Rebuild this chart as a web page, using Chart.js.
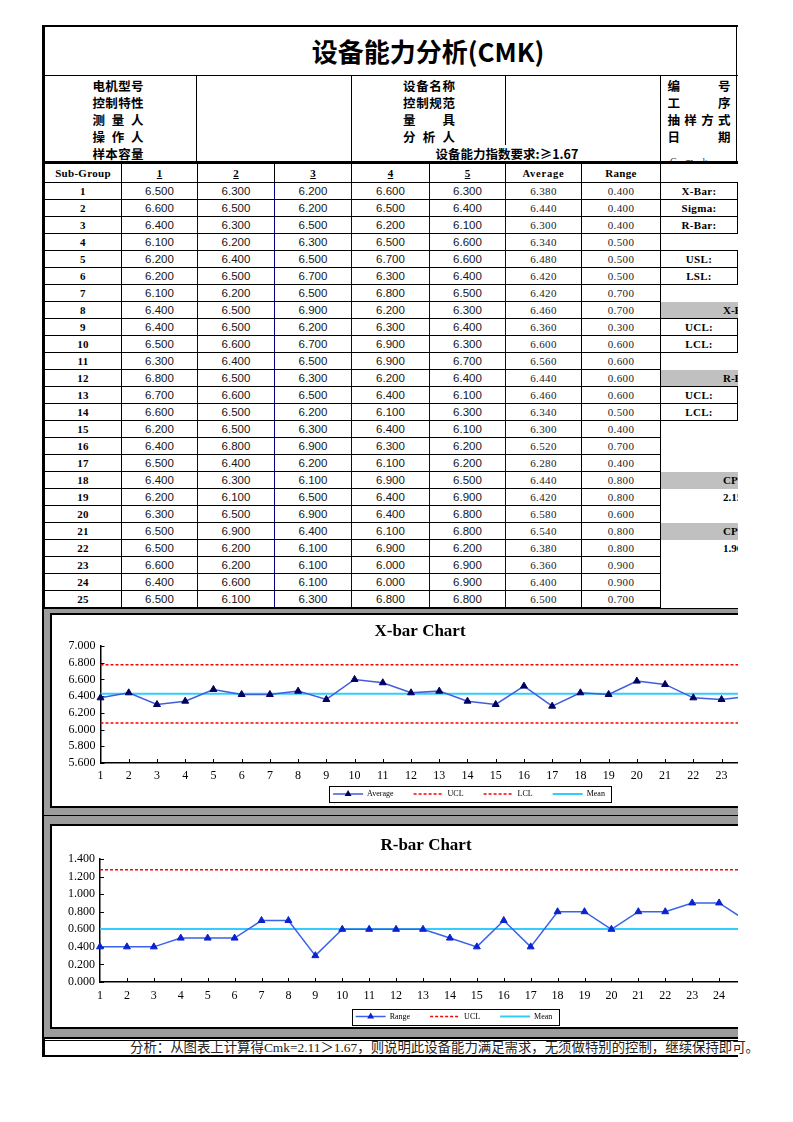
<!DOCTYPE html>
<html>
<head>
<meta charset="utf-8">
<script src="https://cdn.jsdelivr.net/npm/chart.js@4.4.1/dist/chart.umd.min.js"></script>
<style>
body{margin:0;background:#fff;}
#sheet{position:absolute;left:0;top:0;width:738px;height:1122px;overflow:hidden;background:#fff;}
.ln{position:absolute;background:#000;}
.cjk{position:absolute;font-family:"Noto Sans CJK SC",sans-serif;font-weight:700;font-size:12.5px;color:#000;line-height:17px;height:17px;white-space:nowrap;}
.just{display:flex;justify-content:space-between;}
#data{position:absolute;left:44px;top:163px;border-collapse:collapse;table-layout:fixed;width:773px;}
#data td{border:1px solid #000;padding:0;text-align:center;white-space:nowrap;overflow:hidden;line-height:14px;}
#data tr{height:17px;}
#data tr.hd{height:19px;}
#data td.sg{font:bold 11px "Liberation Serif",serif;letter-spacing:.3px;}
#data td.hn{font:bold 11px "Liberation Serif",serif;}
#data td.v{font:11.5px "Liberation Sans",sans-serif;color:#151515;border-left-color:#000080;border-right-color:#000080;}
#data td.av{font:11px "Liberation Serif",serif;color:#222;letter-spacing:.4px;}
#data td.rl{font:bold 11px "Liberation Serif",serif;letter-spacing:.3px;}
#data td.nb{border:none;}
#data td.gh{border:none;background:#c0c0c0;text-align:left;padding-left:62px;font:bold 11px "Liberation Serif",serif;}
#data td.rv{border:none;text-align:left;padding-left:62px;font:bold 11px "Liberation Serif",serif;}
.frame{position:absolute;left:44px;width:700px;background:#9c9c9c;}
.box{position:absolute;left:50px;width:900px;box-sizing:border-box;border:2px solid #000;background:#fff;}
canvas{position:absolute;}
#foot{position:absolute;left:130px;top:1041px;font-family:"Liberation Serif","Noto Sans CJK SC",serif;font-size:13.4px;line-height:14px;color:#222;white-space:nowrap;}
</style>
</head>
<body>
<div id="sheet">
  <!-- 外框 -->
  <div class="ln" style="left:42px;top:25px;width:3px;height:1032px"></div>
  <div class="ln" style="left:42px;top:25px;width:700px;height:2px"></div>
  <div class="ln" style="left:736px;top:25px;width:1px;height:138px"></div>

  <div style="position:absolute;left:44px;top:27px;width:768px;height:48px;line-height:48px;text-align:center;font-family:'Noto Sans CJK SC',sans-serif;font-weight:700;font-size:26px;">设备能力分析(CMK)</div>
  <div class="ln" style="left:44px;top:75px;width:700px;height:1px"></div>

  <div class="ln" style="left:196px;top:76px;width:1px;height:86px"></div>
  <div class="ln" style="left:351px;top:76px;width:1px;height:86px"></div>
  <div class="ln" style="left:505px;top:76px;width:1px;height:69px"></div>
  <div class="ln" style="left:660px;top:76px;width:1px;height:86px"></div>
  <div id="info"></div>
  <div style="position:absolute;left:664px;top:156px;width:72px;height:6px;overflow:hidden;">
    <div style="font:10px 'Liberation Serif',serif;color:#444;letter-spacing:9px;line-height:12px;padding-left:6px;">Cmk</div>
  </div>
  <div class="ln" style="left:44px;top:161px;width:700px;height:2px"></div>

  <table id="data"></table>

  <div class="frame" style="top:608px;height:207px"></div>
  <div class="ln" style="left:44px;top:608px;width:700px;height:1px"></div>
  <div class="box" style="top:613px;height:195px"></div>
  <canvas id="xChart" width="780" height="191" style="left:52px;top:615px"></canvas>
  <div class="ln" style="left:44px;top:815px;width:700px;height:1px"></div>

  <div class="frame" style="top:816px;height:221px"></div>
  <div class="box" style="top:824px;height:205px"></div>
  <canvas id="rChart" width="748" height="201" style="left:52px;top:826px"></canvas>

  <div class="ln" style="left:44px;top:1037px;width:700px;height:2px"></div>
  <div class="ln" style="left:44px;top:1040px;width:700px;height:1px"></div>
  <div class="ln" style="left:42px;top:1055px;width:700px;height:2px"></div>
</div>
<div id="foot">分析：从图表上计算得Cmk=2.11＞1.67，则说明此设备能力满足需求，无须做特别的控制，继续保持即可。</div>

<script>
// 子组编号
const subGroups = ['1','2','3','4','5','6','7','8','9','10','11','12','13','14','15','16','17','18','19','20','21','22','23','24','25'];

// 测量值 (每列一个样本)
const meas1 = [6.5,6.6,6.4,6.1,6.2,6.2,6.1,6.4,6.4,6.5,6.3,6.8,6.7,6.6,6.2,6.4,6.5,6.4,6.2,6.3,6.5,6.5,6.6,6.4,6.5];
const meas2 = [6.3,6.5,6.3,6.2,6.4,6.5,6.2,6.5,6.5,6.6,6.4,6.5,6.6,6.5,6.5,6.8,6.4,6.3,6.1,6.5,6.9,6.2,6.2,6.6,6.1];
const meas3 = [6.2,6.2,6.5,6.3,6.5,6.7,6.5,6.9,6.2,6.7,6.5,6.3,6.5,6.2,6.3,6.9,6.2,6.1,6.5,6.9,6.4,6.1,6.1,6.1,6.3];
const meas4 = [6.6,6.5,6.2,6.5,6.7,6.3,6.8,6.2,6.3,6.9,6.9,6.2,6.4,6.1,6.4,6.3,6.1,6.9,6.4,6.4,6.1,6.9,6.0,6.0,6.8];
const meas5 = [6.3,6.4,6.1,6.6,6.6,6.4,6.5,6.3,6.4,6.3,6.7,6.4,6.1,6.3,6.1,6.2,6.2,6.5,6.9,6.8,6.8,6.2,6.9,6.9,6.8];

const averages = [6.38,6.44,6.30,6.34,6.48,6.42,6.42,6.46,6.36,6.60,6.56,6.44,6.46,6.34,6.30,6.52,6.28,6.44,6.42,6.58,6.54,6.38,6.36,6.40,6.50];
const ranges = [0.4,0.4,0.4,0.5,0.5,0.5,0.7,0.7,0.3,0.6,0.6,0.6,0.6,0.5,0.4,0.7,0.4,0.8,0.8,0.6,0.8,0.8,0.9,0.9,0.7];

// 控制线
const xUCL = 6.777, xLCL = 6.080, xMean = 6.429;
const rUCL = 1.277, rMean = 0.604;

const xTicks = [5.6, 7.0, 0.2];   // min, max, step
const rTicks = [0, 1.4, 0.2];

// ---- 表头信息 ----
const info = document.getElementById('info');
function label(txt, cx, cy, w) {
  const d = document.createElement('div');
  d.className = 'cjk' + (w ? ' just' : '');
  d.style.top = (cy - 8.5) + 'px';
  if (w) {
    d.style.left = (cx - w / 2) + 'px';
    d.style.width = w + 'px';
    d.innerHTML = [...txt].map(c => `<span>${c}</span>`).join('');
  } else {
    d.style.left = (cx - 160) + 'px';
    d.style.width = '320px';
    d.style.textAlign = 'center';
    d.textContent = txt;
  }
  info.appendChild(d);
}
const leftLabels = ['电机型号', '控制特性', '测量人', '操作人', '样本容量'];
const midLabels = ['设备名称', '控制规范', '量具', '分析人'];
const rightInfo = ['编号', '工序', '抽样方式', '日期'];
leftLabels.forEach((t, i) => label(t, 118, 85 + i * 17, 51));
midLabels.forEach((t, i) => label(t, 429, 85 + i * 17, 52));
rightInfo.forEach((t, i) => label(t, 699, 85 + i * 17, 63));
label('设备能力指数要求:≥1.67', 507, 153);

// ---- 数据表 ----
const rightLabels = {0: 'X-Bar:', 1: 'Sigma:', 2: 'R-Bar:', 4: 'USL:', 5: 'LSL:', 8: 'UCL:', 9: 'LCL:', 12: 'UCL:', 13: 'LCL:'};
const rightHeads = {7: 'X-Bar Chart', 11: 'R-Bar Chart', 17: 'CP', 20: 'CPK'};
const rightVals = {18: '2.15', 21: '1.96'};

function rightCells(i) {
  if (rightLabels[i]) return `<td class="rl">${rightLabels[i]}</td><td></td>`;
  if (rightHeads[i]) return `<td class="gh" colspan="2">${rightHeads[i]}</td>`;
  if (rightVals[i]) return `<td class="rv" colspan="2">${rightVals[i]}</td>`;
  return '<td class="nb"></td><td class="nb"></td>';
}

const colW = [77, 76, 77, 77, 78, 76, 76, 79, 77, 80];
let html = '<colgroup>' + colW.map(w => `<col style="width:${w}px">`).join('') + '</colgroup>';
html += '<tr class="hd"><td class="sg">Sub-Group</td>' +
  [1, 2, 3, 4, 5].map(n => `<td class="hn"><u>${n}</u></td>`).join('') +
  '<td class="sg" style="font-size:10.5px;letter-spacing:.8px">Average</td><td class="sg">Range</td>' +
  '<td class="nb" colspan="2" style="border-top:1px solid #000"></td></tr>';
const cols = [meas1, meas2, meas3, meas4, meas5];
subGroups.forEach((g, i) => {
  html += `<tr><td class="sg">${g}</td>` +
    cols.map(m => `<td class="v">${m[i].toFixed(3)}</td>`).join('') +
    `<td class="av">${averages[i].toFixed(3)}</td><td class="av">${ranges[i].toFixed(3)}</td>` +
    rightCells(i) + '</tr>';
});
document.getElementById('data').innerHTML = html;

// ---- 图表 ----
Chart.defaults.font.family = "'Liberation Serif', 'Times New Roman', serif";
Chart.defaults.color = '#000';

const LEGEND_FONT = 8;

// 标题/图例位置、内侧刻度、图例外框
const sheetPlugin = {
  id: 'sheet',
  afterLayout(chart, args, o) {
    const t = chart.titleBlock;
    if (t) {
      const dx = o.titleX - (t.left + t.right) / 2;
      t.left += dx; t.right += dx;
    }
    const lg = chart.legend;
    if (lg) {
      const dx = o.legendX - (lg.left + lg.right) / 2;
      lg.left += dx; lg.right += dx;
      const pad = lg.options.labels.padding;
      lg.top = o.legendY - LEGEND_FONT / 2 - pad;
      lg.bottom = o.legendY + LEGEND_FONT;
      lg.height = lg.bottom - lg.top;
    }
  },
  beforeDatasetsDraw(chart) {
    const {ctx, chartArea: a, scales: {x, y}} = chart;
    ctx.save();
    ctx.strokeStyle = '#000';
    ctx.lineWidth = 1;
    ctx.beginPath();
    x.ticks.forEach((t, i) => {
      if (!i) return;
      const px = Math.round(x.getPixelForTick(i)) + 0.5;
      ctx.moveTo(px, a.bottom); ctx.lineTo(px, a.bottom - 4);
    });
    y.ticks.forEach((t, i) => {
      const py = Math.round(y.getPixelForTick(i)) + 0.5;
      ctx.moveTo(a.left, py); ctx.lineTo(a.left + 4, py);
    });
    ctx.stroke();
    ctx.restore();
  },
  afterDraw(chart) {
    const lg = chart.legend, boxes = lg.legendHitBoxes, ctx = chart.ctx;
    if (!boxes || !boxes.length) return;
    const first = boxes[0], last = boxes[boxes.length - 1];
    const bw = lg.options.labels.pointStyleWidth;
    const cy = first.top + LEGEND_FONT / 2;
    ctx.save();
    ctx.strokeStyle = '#000';
    ctx.lineWidth = 1;
    ctx.setLineDash([]);
    ctx.strokeRect(Math.round(first.left - 4) + 0.5, Math.round(cy - 8) + 0.5,
      Math.round(last.left + last.width - first.left + 10), 16);
    // 图例上的三角标记
    const ds = chart.data.datasets[0];
    const r = ds.pointRadius, cx = first.left + bw / 2;
    ctx.fillStyle = ds.pointBackgroundColor;
    ctx.beginPath();
    ctx.moveTo(cx, cy - r);
    ctx.lineTo(cx + r * 0.866, cy + r / 2);
    ctx.lineTo(cx - r * 0.866, cy + r / 2);
    ctx.closePath();
    ctx.fill();
    ctx.restore();
  }
};

function legendLabels(chart) {
  return chart.data.datasets.map((ds, i) => ({
    text: ds.label,
    datasetIndex: i,
    hidden: false,
    fillStyle: ds.borderColor,
    strokeStyle: ds.borderColor,
    lineWidth: ds.borderWidth,
    lineDash: ds.borderDash || [],
    lineCap: 'butt',
    pointStyle: 'line',
    rotation: 0,
    fontColor: '#000'
  }));
}

function axes(ticks, xPad) {
  return {
    x: {
      type: 'category', offset: false,
      grid: {display: false, drawTicks: false},
      border: {color: '#000', width: 1.5},
      ticks: {padding: xPad, maxRotation: 0, autoSkip: false, font: {size: 12}}
    },
    y: {
      min: ticks[0], max: ticks[1],
      grid: {display: false, drawTicks: false},
      border: {color: '#000', width: 1.5},
      ticks: {stepSize: ticks[2], padding: 5, autoSkip: false, font: {size: 12}, callback: v => Number(v).toFixed(3)},
      afterFit: s => { s.width = 40; }
    }
  };
}

function lineSet(label, data, color, markerColor) {
  return {label, data, borderColor: color, borderWidth: 1.5, tension: 0,
    pointStyle: 'triangle', pointRadius: 4, pointHoverRadius: 4,
    pointBackgroundColor: markerColor, pointBorderColor: markerColor, pointBorderWidth: 1, clip: false};
}
function flatSet(label, value, color, dash, width) {
  return {label, data: subGroups.map(() => value), borderColor: color, borderWidth: width,
    borderDash: dash, pointRadius: 0, tension: 0};
}

new Chart(document.getElementById('xChart'), {
  type: 'line',
  data: {
    labels: subGroups,
    datasets: [
      lineSet('Average', averages, '#3f5ddc', '#00005e'),
      flatSet('UCL', xUCL, '#ff0000', [3, 2], 1.5),
      flatSet('LCL', xLCL, '#ff0000', [3, 2], 1.5),
      flatSet('Mean', xMean, '#33ccff', undefined, 2)
    ]
  },
  options: {
    responsive: false, animation: false, devicePixelRatio: 1,
    layout: {padding: {left: 8.5, right: 54, top: 0, bottom: 0.6}},
    scales: axes(xTicks, 6),
    plugins: {
      title: {display: true, text: 'X-bar Chart', font: {size: 17, weight: 'bold'}, color: '#000', padding: {top: 6.8, bottom: 3.8}},
      legend: {position: 'bottom', maxHeight: 16,
        labels: {font: {size: LEGEND_FONT}, color: '#000', usePointStyle: true, pointStyle: 'line',
          pointStyleWidth: 30, padding: 20, generateLabels: legendLabels}},
      tooltip: {enabled: false},
      sheet: {titleX: 368, legendX: 417, legendY: 179}
    }
  },
  plugins: [sheetPlugin]
});

new Chart(document.getElementById('rChart'), {
  type: 'line',
  data: {
    labels: subGroups,
    datasets: [
      lineSet('Range', ranges, '#3a62e8', '#0a22d0'),
      flatSet('UCL', rUCL, '#ff0000', [3, 2], 1.5),
      flatSet('Mean', rMean, '#33ccff', undefined, 2)
    ]
  },
  options: {
    responsive: false, animation: false, devicePixelRatio: 1,
    layout: {padding: {left: 8, right: 54, top: 0, bottom: 0.6}},
    scales: axes(rTicks, 7),
    plugins: {
      title: {display: true, text: 'R-bar Chart', font: {size: 17, weight: 'bold'}, color: '#000', padding: {top: 9.8, bottom: 2.8}},
      legend: {position: 'bottom', maxHeight: 16,
        labels: {font: {size: LEGEND_FONT}, color: '#000', usePointStyle: true, pointStyle: 'line',
          pointStyleWidth: 30, padding: 20, generateLabels: legendLabels}},
      tooltip: {enabled: false},
      sheet: {titleX: 374, legendX: 402, legendY: 190.5}
    }
  },
  plugins: [sheetPlugin]
});
</script>
</body>
</html>
